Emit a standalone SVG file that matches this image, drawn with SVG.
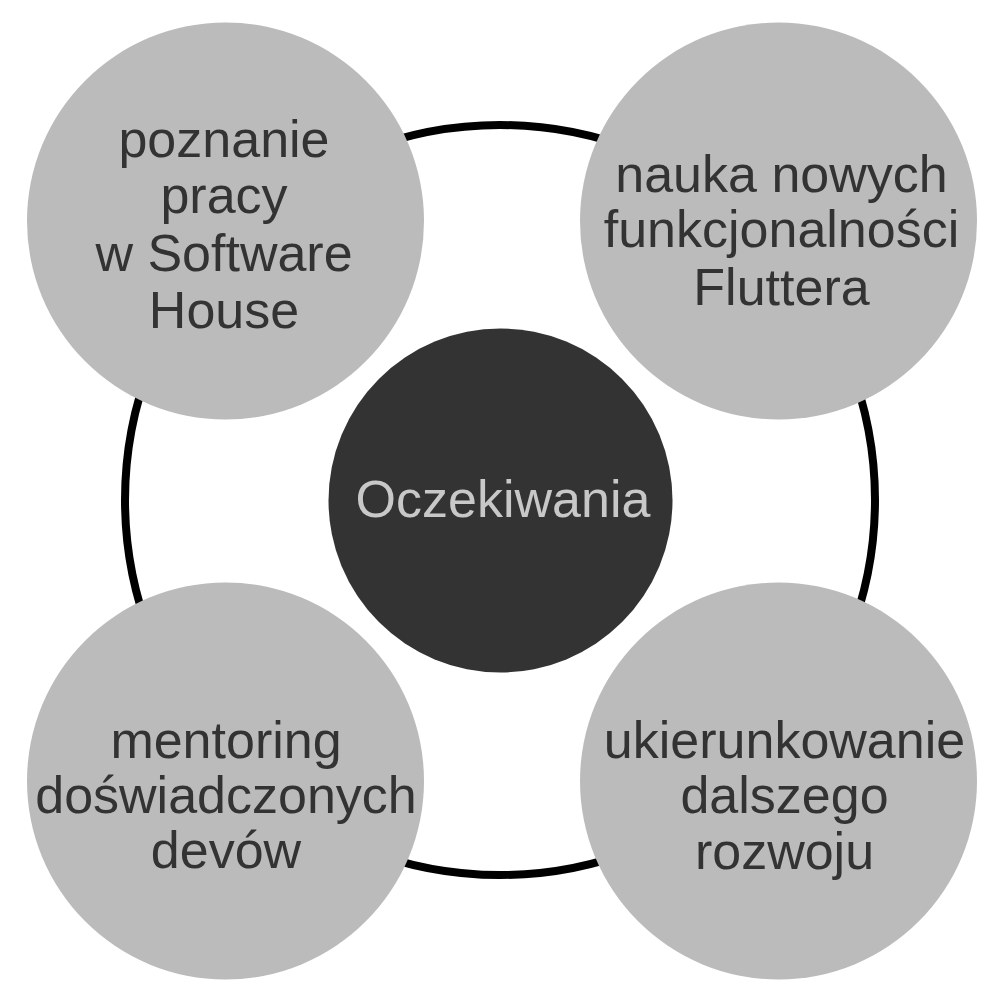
<svg xmlns="http://www.w3.org/2000/svg" width="1000" height="1000" viewBox="0 0 1000 1000">
  <style>
    .ring { fill: none; stroke: #000000; stroke-width: 8; }
    .outer { fill: #bbbbbb; }
    .core { fill: #333333; }
    text { font-family: "Liberation Sans", Arial, sans-serif; font-size: 52px; text-anchor: middle; }
    .outer-label { fill: #333333; }
    .core-label { fill: #c8c8c8; }
  </style>
  <rect width="1000" height="1000" fill="#ffffff"/>

  <!-- ring linking the four outer topics -->
  <g id="connectors">
    <circle class="ring" cx="500" cy="500" r="375"/>
  </g>

  <g id="center">
    <circle class="core" cx="500.5" cy="500.5" r="172"/>
    <text class="core-label" x="503" y="517">Oczekiwania</text>
  </g>

  <g id="node-top-left">
    <circle class="outer" cx="225.5" cy="221" r="198.5"/>
    <text class="outer-label" x="224" y="157">poznanie</text>
    <text class="outer-label" x="224" y="213">pracy</text>
    <text class="outer-label" x="224" y="271">w Software</text>
    <text class="outer-label" x="224" y="328">House</text>
  </g>

  <g id="node-top-right">
    <circle class="outer" cx="778.5" cy="221" r="198.5"/>
    <text class="outer-label" x="781.5" y="192">nauka nowych</text>
    <text class="outer-label" x="781.5" y="247">funkcjonalności</text>
    <text class="outer-label" x="781.5" y="305">Fluttera</text>
  </g>

  <g id="node-bottom-left">
    <circle class="outer" cx="225.5" cy="781" r="198.5"/>
    <text class="outer-label" x="226" y="758">mentoring</text>
    <text class="outer-label" x="226" y="813">doświadczonych</text>
    <text class="outer-label" x="226" y="868">devów</text>
  </g>

  <g id="node-bottom-right">
    <circle class="outer" cx="778.5" cy="781" r="198.5"/>
    <text class="outer-label" x="784.5" y="758">ukierunkowanie</text>
    <text class="outer-label" x="784.5" y="813">dalszego</text>
    <text class="outer-label" x="784.5" y="869">rozwoju</text>
  </g>
</svg>
